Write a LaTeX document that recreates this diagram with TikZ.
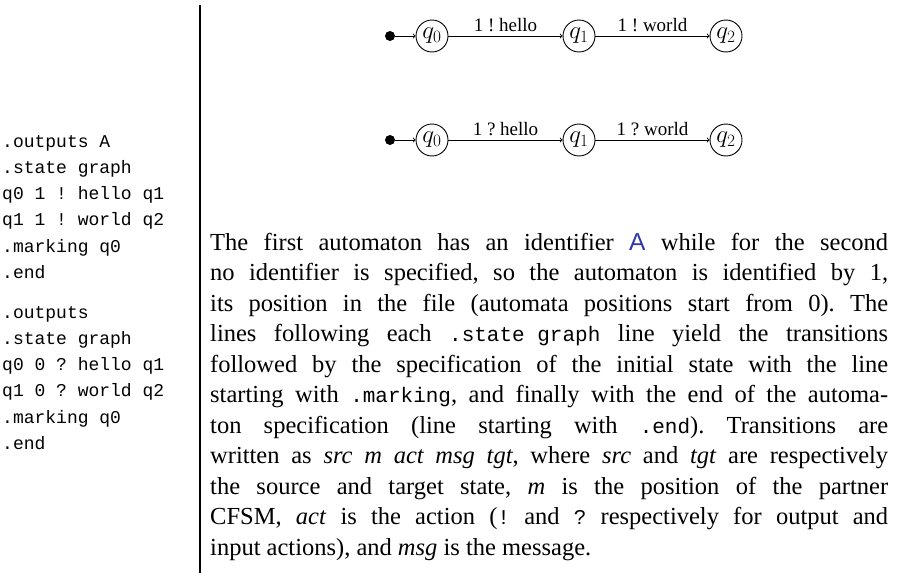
\documentclass[tikz,border=0pt]{standalone}
\usepackage{fontspec}
\setmainfont{Liberation Serif}
\setsansfont{Liberation Sans}
\setmonofont{Liberation Mono}
\definecolor{idblue}{RGB}{45,55,170}
\newcommand{\fullline}[1]{\makebox[678pt][s]{#1}}
\newcommand{\kw}[1]{{\fontsize{21}{30}\ttfamily #1}}
\frenchspacing

\begin{document}
\begin{tikzpicture}[x=1pt,y=-1pt]
\tikzstyle{every node}+=[inner sep=0pt]
\tikzstyle{state}=[draw,circle,line width=0.9pt,minimum size=32pt,font=\fontsize{24.5}{28}\selectfont]
\tikzstyle{start}=[fill,circle,minimum size=10pt]
\tikzstyle{trans}=[->,line width=0.9pt]
\tikzstyle{lbl}=[above=3.5pt,font=\fontsize{19}{22}\selectfont]
\tikzstyle{code}=[anchor=base west,font=\fontsize{18}{22}\ttfamily]
\tikzstyle{body}=[anchor=base west,font=\fontsize{24.5}{30}\selectfont]
\useasboundingbox (0,0) rectangle (898,573);
\draw [line width=2pt] (200,5) -- (200,573);
\node [code] (c1) at (2,147) {.outputs A};
\node [code] (c2) at (2,173.3) {.state graph};
\node [code] (c3) at (2,199.6) {q0 1 ! hello q1};
\node [code] (c4) at (2,225.9) {q1 1 ! world q2};
\node [code] (c5) at (2,252.2) {.marking q0};
\node [code] (c6) at (2,278.5) {.end};
\node [code] (c7) at (2,318) {.outputs};
\node [code] (c8) at (2,344.3) {.state graph};
\node [code] (c9) at (2,370.6) {q0 0 ? hello q1};
\node [code] (c10) at (2,396.9) {q1 0 ? world q2};
\node [code] (c11) at (2,423.2) {.marking q0};
\node [code] (c12) at (2,449.5) {.end};
\node [start] (i0) at (390,36) {};
\node [state] (q0) at (432,36) {$q_0$};
\node [state] (q1) at (579,36) {$q_1$};
\node [state] (q2) at (726,36) {$q_2$};
\draw [trans] (i0) -- (q0);
\draw [trans] (q0) -- node [lbl] {1 ! hello} (q1);
\draw [trans] (q1) -- node [lbl] {1 ! world} (q2);
\node [start] (j0) at (390,140) {};
\node [state] (r0) at (432,140) {$q_0$};
\node [state] (r1) at (579,140) {$q_1$};
\node [state] (r2) at (726,140) {$q_2$};
\draw [trans] (j0) -- (r0);
\draw [trans] (r0) -- node [lbl] {1 ? hello} (r1);
\draw [trans] (r1) -- node [lbl] {1 ? world} (r2);
\node [body] (p1) at (210,250) {\fullline{The first automaton has an identifier \textsf{\color{idblue}A} while for the second}};
\node [body] (p2) at (210,280.5) {\fullline{no identifier is specified, so the automaton is identified by 1,}};
\node [body] (p3) at (210,311) {\fullline{its position in the file (automata positions start from 0). The}};
\node [body] (p4) at (210,341.5) {\fullline{lines following each \kw{.state graph} line yield the transitions}};
\node [body] (p5) at (210,372) {\fullline{followed by the specification of the initial state with the line}};
\node [body] (p6) at (210,402.5) {\fullline{starting with \kw{.marking}, and finally with the end of the automa-}};
\node [body] (p7) at (210,433) {\fullline{ton specification (line starting with \kw{.end}). Transitions are}};
\node [body] (p8) at (210,463.5) {\fullline{written as \emph{src m act msg tgt}, where \emph{src} and \emph{tgt} are respectively}};
\node [body] (p9) at (210,494) {\fullline{the source and target state, \emph{m} is the position of the partner}};
\node [body] (p10) at (210,524.5) {\fullline{CFSM, \emph{act} is the action (\kw{!} and \kw{?} respectively for output and}};
\node [body] (p11) at (210,555) {input actions), and \emph{msg} is the message.};
\end{tikzpicture}
\end{document}
